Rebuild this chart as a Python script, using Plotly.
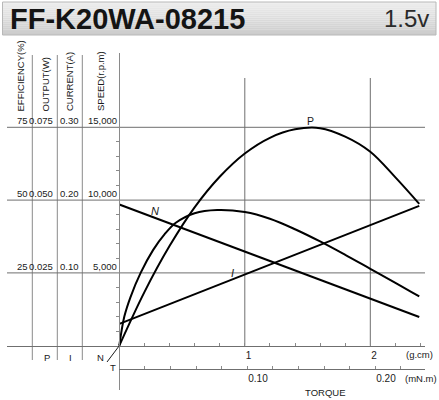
import plotly.graph_objects as go

W, H = 439, 400

# ---------------- data ----------------
TORQUE_LINE = [0.0, 2.39]            # g.cm (straight N and I characteristics)
SPEED_RPM = [9700, 1970]
CURRENT_A = [0.030, 0.192]

TORQUE_EFF = [0, 0.04, 0.09, 0.17, 0.27, 0.36, 0.45, 0.60, 0.78, 1.0, 1.2, 1.4, 1.6, 1.8, 2.0, 2.2, 2.39]
EFFICIENCY = [0, 10, 16.8, 25, 32.9, 38.2, 42.2, 45.5, 46.6, 45.9, 43.6, 40.0, 35.8, 31.2, 26.4, 21.6, 16.9]

TORQUE_OUT = [0, 0.2, 0.4, 0.6, 0.8, 1.0, 1.2, 1.4, 1.6, 1.8, 2.0, 2.2, 2.39]
OUTPUT_W = [0, 0.0184, 0.0342, 0.0475, 0.0580, 0.0660, 0.0714, 0.0743, 0.0747, 0.0718, 0.0666, 0.0578, 0.0487]

# left-hand scale labels (one row per horizontal grid line)
GRID_RPM = [15000, 10000, 5000]
EFF_TICKS = ["75", "50", "25"]
OUT_TICKS = ["0.075", "0.050", "0.025"]
CUR_TICKS = ["0.30", "0.20", "0.10"]
SPD_TICKS = ["15,000", "10,000", "5,000"]
SPD_MINOR = [v for v in range(1000, 15000, 1000) if v % 5000]

GCM_TICKVALS = [round(0.2 * i, 1) for i in range(1, 13)]
GCM_TICKTEXT = ["1" if v == 1.0 else ("2" if v == 2.0 else "") for v in GCM_TICKVALS]
MNM_TICKVALS = [round(0.02 * i, 2) for i in range(1, 12)]
MNM_TICKTEXT = ["0.10" if v == 0.1 else ("0.20" if v == 0.2 else "") for v in MNM_TICKVALS]
GRID_TORQUE = [1, 2]

TITLE = "FF-K20WA-08215"
VOLT = "1.5v"

# ---------------- scales ----------------
EFF_FACTOR = 15000 / 75
OUT_FACTOR = 15000 / 0.075
CUR_FACTOR = 15000 / 0.30

X0_PX, PX_PER_GCM = 119.3, 125.5
Y0_PX, PX_PER_5000 = 345.7, 72.8
RPM_PER_PX = 5000 / PX_PER_5000
MNM_PER_GCM = 0.0980665

def px(x):
    return x / W

def py(y):
    return 1 - y / H

def rpm_at(ypx):
    return (Y0_PX - ypx) * RPM_PER_PX

XDOM = [7, 425]
YDOM = [53, 390]  # top, bottom (px)
x_range = [(XDOM[0] - X0_PX) / PX_PER_GCM, (XDOM[1] - X0_PX) / PX_PER_GCM]
y_range = [rpm_at(YDOM[1]), rpm_at(YDOM[0])]
x2_range = [0, (XDOM[1] - X0_PX) / (PX_PER_GCM / MNM_PER_GCM)]

FONT = "Liberation Sans, Arial, sans-serif"
INK = "#1a1a1a"
GRID = "#6f6f6f"
LINEC = "#8a8a8a"

fig = go.Figure()
curve = dict(color="black", width=2)
smooth = dict(curve, shape="spline", smoothing=1.0)
fig.add_trace(go.Scatter(x=TORQUE_LINE, y=SPEED_RPM, mode="lines", line=curve,
                         xaxis="x", yaxis="y", hoverinfo="skip"))
fig.add_trace(go.Scatter(x=TORQUE_EFF, y=EFFICIENCY, mode="lines", line=smooth,
                         xaxis="x", yaxis="y2", hoverinfo="skip"))
fig.add_trace(go.Scatter(x=TORQUE_OUT, y=OUTPUT_W, mode="lines", line=smooth,
                         xaxis="x", yaxis="y3", hoverinfo="skip"))
fig.add_trace(go.Scatter(x=TORQUE_LINE, y=CURRENT_A, mode="lines", line=curve,
                         xaxis="x", yaxis="y4", hoverinfo="skip"))
# empty trace so that the mN.m axis subplot exists
fig.add_trace(go.Scatter(x=[], y=[], xaxis="x2", yaxis="y", hoverinfo="skip"))

ydomain = [py(YDOM[1]), py(YDOM[0])]

shapes = []
# title bar with a vertical gradient
top, bot = 2, 35
n = 17
c_top, c_bot = (238, 238, 238), (204, 204, 204)
for i in range(n):
    t = i / (n - 1)
    c = tuple(int(c_top[k] + (c_bot[k] - c_top[k]) * t) for k in range(3))
    y0 = top + (bot - top) * i / n
    y1 = top + (bot - top) * (i + 1) / n
    shapes.append(dict(type="rect", xref="paper", yref="paper", x0=px(2.5), x1=px(436),
                       y0=py(y1), y1=py(y0), line=dict(width=0), fillcolor="rgb(%d,%d,%d)" % c, layer="below"))
shapes.append(dict(type="rect", xref="paper", yref="paper", x0=px(2.5), x1=px(436), y0=py(bot), y1=py(top),
                   line=dict(color="#b8b8b8", width=1), fillcolor="rgba(0,0,0,0)", layer="below"))
# left column separators
for xp in [32.3, 57.3, 82.3]:
    shapes.append(dict(type="line", xref="paper", yref="paper", x0=px(xp), x1=px(xp), y0=py(55), y1=py(360),
                       line=dict(color=LINEC, width=1), layer="below"))
# horizontal grid lines
for v in GRID_RPM:
    shapes.append(dict(type="line", xref="paper", yref="y", x0=px(7), x1=px(425), y0=v, y1=v,
                       line=dict(color=GRID, width=1), layer="below"))
# vertical grid lines
for v in GRID_TORQUE:
    shapes.append(dict(type="line", xref="x", yref="y", x0=v, x1=v, y0=0, y1=rpm_at(78),
                       line=dict(color=GRID, width=1), layer="below"))
# N / T corner slash
shapes.append(dict(type="line", xref="paper", yref="paper", x0=px(107), y0=py(362), x1=px(X0_PX), y1=py(Y0_PX),
                   line=dict(color=INK, width=1)))

ann = []
def text(x, y, s, size=9.5, xanchor="center", yanchor="middle", angle=0, color=INK):
    ann.append(dict(x=px(x), y=py(y), xref="paper", yref="paper", text=s,
                    showarrow=False, xanchor=xanchor, yanchor=yanchor, textangle=angle,
                    font=dict(family=FONT, size=size, color=color)))

text(8, 18.5, "<b>%s</b>" % TITLE, size=29, xanchor="left", color="#141414")
text(431, 19, VOLT, size=24, xanchor="right", color="#2a2a2a")

# rotated headers
for xc, s in [(20.5, "EFFICIENCY(%)"), (45, "OUTPUT(W)"), (70, "CURRENT(A)"), (100.5, "SPEED(r.p.m)")]:
    text(xc, 113.5, s, size=9.5, yanchor="bottom", angle=-90)

# left scale labels
for xr, labels in [(30, EFF_TICKS), (55, OUT_TICKS), (81, CUR_TICKS), (118.5, SPD_TICKS)]:
    for v, s in zip(GRID_RPM, labels):
        ann.append(dict(x=px(xr), y=v, xref="paper", yref="y", text=s, showarrow=False,
                        xanchor="right", yanchor="bottom", yshift=-1,
                        font=dict(family=FONT, size=9.5, color=INK)))

# column footers
text(47, 357, "P", size=9.5)
text(70.5, 357, "I", size=9.5)
text(100, 357, "N", size=9.5)
text(113, 367.5, "T", size=9.5)

# curve labels
text(310.5, 121.5, "P", size=10.5)
text(155, 210.5, "<i>N</i>", size=11)
text(232, 272.5, "<i>I</i>", size=11)

# torque units
text(419, 354, "(g.cm)", size=9.5)
text(421, 378, "(mN.m)", size=9.5)
text(325, 392.5, "TORQUE", size=9.5)

axis_common = dict(showgrid=False, zeroline=False)
fig.update_layout(
    width=W, height=H,
    margin=dict(l=0, r=0, t=0, b=0),
    paper_bgcolor="white", plot_bgcolor="rgba(0,0,0,0)",
    showlegend=False,
    xaxis=dict(domain=[px(XDOM[0]), px(XDOM[1])], range=x_range, anchor="free", position=py(Y0_PX),
               showline=True, linecolor=GRID, linewidth=1,
               tickmode="array", tickvals=GCM_TICKVALS, ticktext=GCM_TICKTEXT,
               ticks="inside", ticklen=3, tickcolor=LINEC, ticklabelposition="outside right",
               tickfont=dict(family=FONT, size=10, color=INK), **axis_common),
    xaxis2=dict(domain=[px(X0_PX), px(XDOM[1])], range=x2_range, anchor="free", position=py(369.3),
                showline=True, linecolor=GRID, linewidth=1,
                tickmode="array", tickvals=MNM_TICKVALS, ticktext=MNM_TICKTEXT,
                ticks="inside", ticklen=3, tickcolor=LINEC, ticklabelposition="outside right",
                tickfont=dict(family=FONT, size=10, color=INK), **axis_common),
    yaxis=dict(domain=ydomain, range=y_range, anchor="free", position=px(X0_PX),
               showline=True, linecolor=LINEC, linewidth=1,
               tickmode="array", tickvals=SPD_MINOR, ticks="outside", ticklen=3, tickcolor=LINEC,
               showticklabels=False, **axis_common),
    yaxis2=dict(overlaying="y", range=[v / EFF_FACTOR for v in y_range], visible=False, **axis_common),
    yaxis3=dict(overlaying="y", range=[v / OUT_FACTOR for v in y_range], visible=False, **axis_common),
    yaxis4=dict(overlaying="y", range=[v / CUR_FACTOR for v in y_range], visible=False, **axis_common),
    shapes=shapes,
    annotations=ann,
)

fig.write_html("out.html", config={"displayModeBar": False},
               post_script="document.body.style.margin='0';document.body.style.overflow='hidden';")
